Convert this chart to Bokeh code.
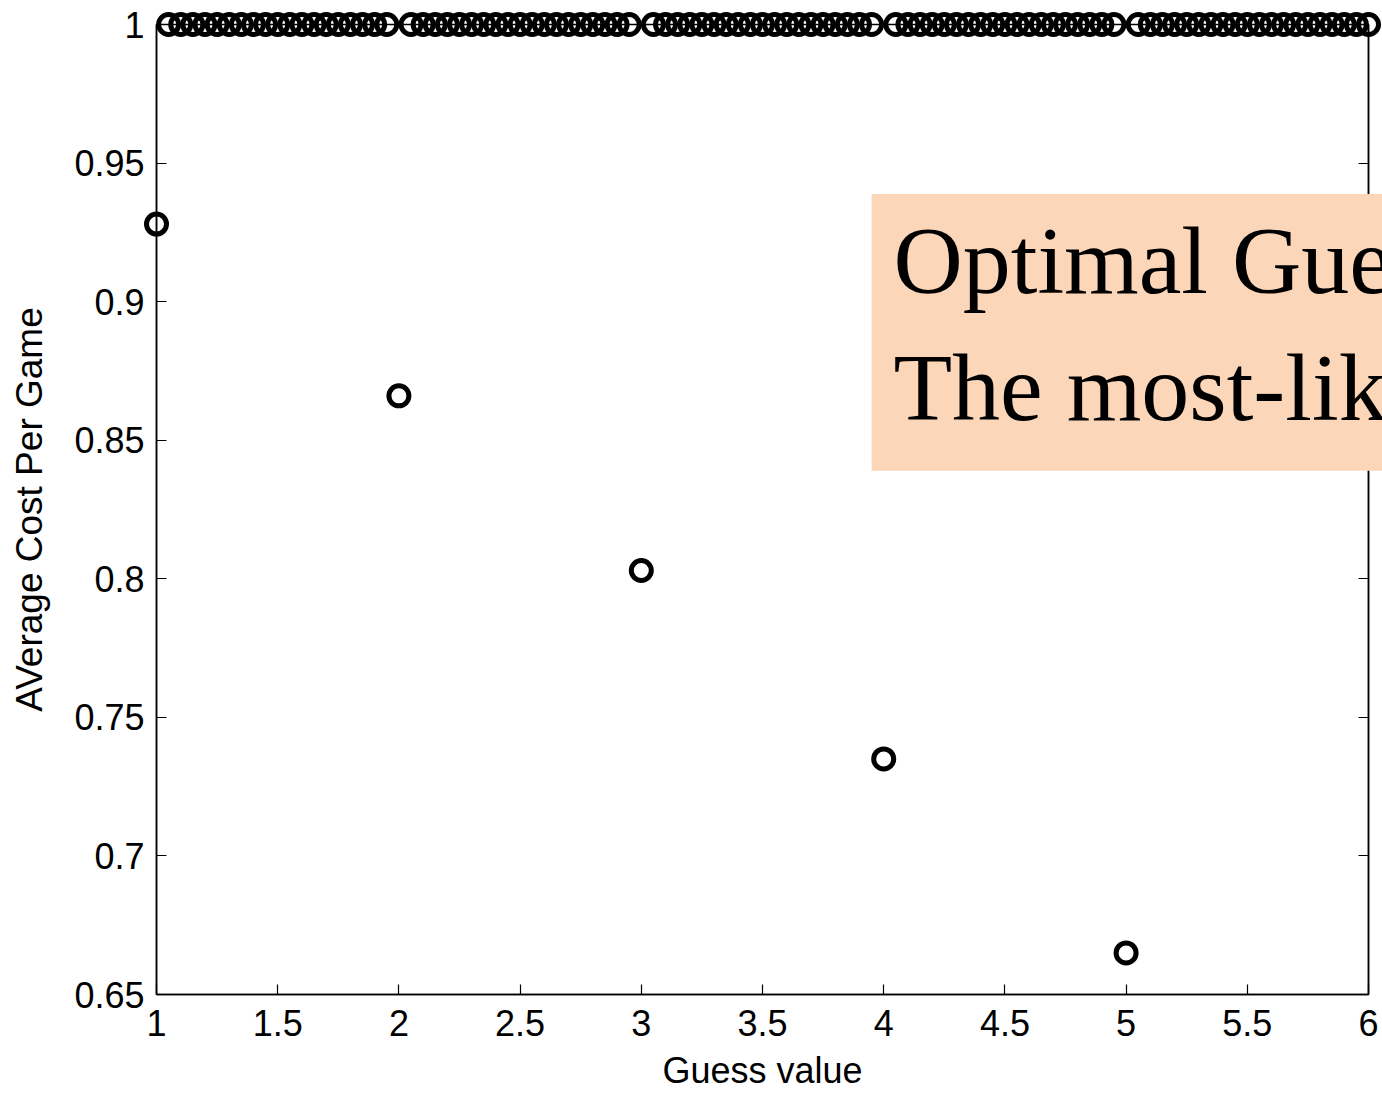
from bokeh.plotting import figure
from bokeh.models import Range1d, LinearAxis, FixedTicker
from bokeh.core.properties import value
from bokeh.embed import file_html
from bokeh.resources import INLINE

# ---- data ----
guess_low = [1, 2, 3, 4, 5]
cost_low = [0.928, 0.866, 0.803, 0.735, 0.665]

guess_top = [
    1.05, 1.10, 1.15, 1.20, 1.25, 1.30, 1.35, 1.40, 1.45, 1.50, 1.55, 1.60, 1.65, 1.70, 1.75, 1.80, 1.85, 1.90, 1.95,
    2.05, 2.10, 2.15, 2.20, 2.25, 2.30, 2.35, 2.40, 2.45, 2.50, 2.55, 2.60, 2.65, 2.70, 2.75, 2.80, 2.85, 2.90, 2.95,
    3.05, 3.10, 3.15, 3.20, 3.25, 3.30, 3.35, 3.40, 3.45, 3.50, 3.55, 3.60, 3.65, 3.70, 3.75, 3.80, 3.85, 3.90, 3.95,
    4.05, 4.10, 4.15, 4.20, 4.25, 4.30, 4.35, 4.40, 4.45, 4.50, 4.55, 4.60, 4.65, 4.70, 4.75, 4.80, 4.85, 4.90, 4.95,
    5.05, 5.10, 5.15, 5.20, 5.25, 5.30, 5.35, 5.40, 5.45, 5.50, 5.55, 5.60, 5.65, 5.70, 5.75, 5.80, 5.85, 5.90, 5.95,
    6.00,
]
cost_top = [1.0] * len(guess_top)

x_ticks = [1, 1.5, 2, 2.5, 3, 3.5, 4, 4.5, 5, 5.5, 6]
x_tick_labels = ["1", "1.5", "2", "2.5", "3", "3.5", "4", "4.5", "5", "5.5", "6"]
y_ticks = [0.65, 0.7, 0.75, 0.8, 0.85, 0.9, 0.95, 1.0]
y_tick_labels = ["0.65", "0.7", "0.75", "0.8", "0.85", "0.9", "0.95", "1"]

x_title = "Guess value"
y_title = "AVerage Cost Per Game"
box_lines = ["Optimal Gue", "The most-lik"]

FONT = "Liberation Sans"

p = figure(
    width=1382, height=1093,
    x_range=Range1d(1, 6), y_range=Range1d(0.65, 1.0),
    output_backend="svg", toolbar_location=None,
    min_border_left=156, min_border_right=14,
    min_border_top=24, min_border_bottom=97,
    background_fill_color="white", border_fill_color="white",
)
p.grid.visible = False
p.outline_line_color = "black"
p.outline_line_width = 1.5

p.add_layout(LinearAxis(), "right")


def style_axis(ax, ticks, labels, show):
    ax.ticker = FixedTicker(ticks=ticks)
    ax.major_label_overrides = {t: (l if show else "") for t, l in zip(ticks, labels)}
    ax.axis_line_color = "black"
    ax.axis_line_width = 1.5
    ax.major_tick_line_color = "black"
    ax.major_tick_line_width = 1.2
    ax.major_tick_in = 10
    ax.major_tick_out = 0
    ax.minor_tick_in = 0
    ax.minor_tick_out = 0
    ax.major_label_text_font = FONT
    ax.major_label_text_color = "black"
    if show:
        ax.major_label_text_font_size = "36px"
    else:
        ax.major_label_text_font_size = "1px"
        ax.major_label_standoff = 0


for ax in p.below:
    style_axis(ax, x_ticks, x_tick_labels, True)
for ax in p.left + p.right:
    style_axis(ax, y_ticks, y_tick_labels, ax in p.left)

p.xaxis[0].major_label_standoff = 15
p.yaxis[0].major_label_standoff = 12

xa = p.below[0]
xa.axis_label = x_title
xa.axis_label_text_font = FONT
xa.axis_label_text_font_size = "36px"
xa.axis_label_text_font_style = "normal"
xa.axis_label_text_color = "black"
xa.axis_label_standoff = 11

ya = p.left[0]
ya.axis_label = y_title
ya.axis_label_text_font = FONT
ya.axis_label_text_font_size = "37px"
ya.axis_label_text_font_style = "normal"
ya.axis_label_text_color = "black"
ya.axis_label_standoff = 21

# text box, drawn above the axes so that it covers the right axis line
p.quad(left=[3.95], right=[6.2], top=[0.9388], bottom=[0.8390],
       fill_color="#FBD6B8", fill_alpha=1.0, line_color=None, level="overlay")
p.text(x=[4.04, 4.04], y=[0.9147, 0.8690], text=box_lines,
       text_font=value("Liberation Serif"), text_font_size="96px",
       text_baseline="alphabetic", text_align="left", text_color="black",
       level="overlay")

p.scatter(guess_top, cost_top, marker="circle", size=20, fill_color=None,
          line_color="black", line_width=5, level="overlay")
p.scatter(guess_low, cost_low, marker="circle", size=20, fill_color=None,
          line_color="black", line_width=5, level="overlay")

open("out.html", "w").write(file_html(p, INLINE))
